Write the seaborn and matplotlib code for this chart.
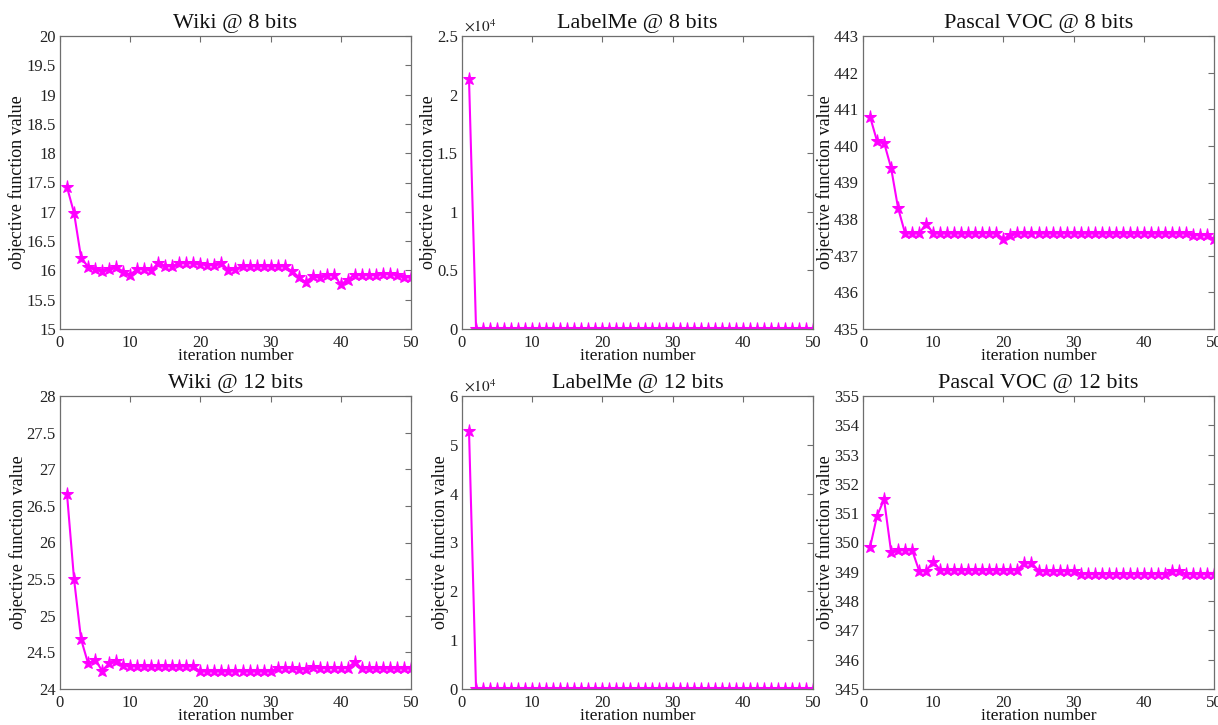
import numpy as np
import pandas as pd
import matplotlib
matplotlib.use("Agg")
import matplotlib.pyplot as plt
from matplotlib.ticker import FuncFormatter, MultipleLocator
import seaborn as sns

# Objective value per iteration (iterations 1..50)
iterations = list(range(1, 51))

wiki_8 = [17.42, 16.98, 16.22, 16.06, 16.02, 15.99, 16.03, 16.06, 15.98, 15.93,
          16.02, 16.03, 16.00, 16.13, 16.08, 16.08, 16.12, 16.13, 16.12, 16.11,
          16.10, 16.10, 16.13, 16.00, 16.03, 16.07, 16.07, 16.07, 16.07, 16.07,
          16.07, 16.07, 15.99, 15.89, 15.80, 15.90, 15.88, 15.92, 15.92, 15.76,
          15.84, 15.93, 15.93, 15.93, 15.93, 15.94, 15.94, 15.93, 15.89, 15.88]

labelme_8 = [21300, 30, 30, 30, 30, 30, 30, 30, 30, 30,
             30, 30, 30, 30, 30, 30, 30, 30, 30, 30,
             30, 30, 30, 30, 30, 30, 30, 30, 30, 30,
             30, 30, 30, 30, 30, 30, 30, 30, 30, 30,
             30, 30, 30, 30, 30, 30, 30, 30, 30, 30]

pascal_8 = [440.80, 440.13, 440.09, 439.40, 438.30, 437.61, 437.61, 437.61, 437.88, 437.61,
            437.61, 437.61, 437.61, 437.61, 437.61, 437.61, 437.63, 437.61, 437.61, 437.46,
            437.57, 437.61, 437.61, 437.61, 437.61, 437.61, 437.61, 437.61, 437.62, 437.61,
            437.61, 437.61, 437.61, 437.61, 437.61, 437.61, 437.61, 437.61, 437.61, 437.62,
            437.61, 437.61, 437.61, 437.61, 437.61, 437.61, 437.58, 437.56, 437.57, 437.46]

wiki_12 = [26.66, 25.50, 24.68, 24.35, 24.40, 24.25, 24.35, 24.38, 24.33, 24.31,
           24.31, 24.31, 24.31, 24.31, 24.31, 24.31, 24.31, 24.31, 24.31, 24.24,
           24.24, 24.24, 24.24, 24.24, 24.24, 24.24, 24.24, 24.24, 24.24, 24.24,
           24.29, 24.29, 24.29, 24.27, 24.27, 24.30, 24.29, 24.29, 24.29, 24.29,
           24.29, 24.37, 24.28, 24.28, 24.28, 24.28, 24.28, 24.28, 24.28, 24.28]

labelme_12 = [52800, 40, 40, 40, 40, 40, 40, 40, 40, 40,
              40, 40, 40, 40, 40, 40, 40, 40, 40, 40,
              40, 40, 40, 40, 40, 40, 40, 40, 40, 40,
              40, 40, 40, 40, 40, 40, 40, 40, 40, 40,
              40, 40, 40, 40, 40, 40, 40, 40, 40, 40]

pascal_12 = [349.83, 350.91, 351.47, 349.69, 349.74, 349.74, 349.74, 349.03, 349.03, 349.35,
             349.06, 349.06, 349.06, 349.06, 349.06, 349.06, 349.06, 349.06, 349.06, 349.06,
             349.06, 349.06, 349.31, 349.31, 349.04, 349.04, 349.04, 349.04, 349.04, 349.04,
             348.93, 348.93, 348.93, 348.93, 348.93, 348.93, 348.93, 348.93, 348.93, 348.93,
             348.93, 348.93, 348.93, 349.04, 349.04, 348.93, 348.93, 348.93, 348.93, 348.93]

titles = ["Wiki @ 8 bits", "LabelMe @ 8 bits", "Pascal VOC @ 8 bits",
          "Wiki @ 12 bits", "LabelMe @ 12 bits", "Pascal VOC @ 12 bits"]
series = [wiki_8, labelme_8, pascal_8, wiki_12, labelme_12, pascal_12]
y_limits = [(15, 20), (0, 25000), (435, 443), (24, 28), (0, 60000), (345, 355)]
y_steps = [0.5, 5000, 1, 0.5, 10000, 1]
y_scale = [1, 1e4, 1, 1, 1e4, 1]

sns.set_style("white")
plt.rcParams["font.family"] = ["Liberation Serif", "DejaVu Serif"]
plt.rcParams["mathtext.fontset"] = "stix"

W, H = 1218, 725
fig = plt.figure(figsize=(W / 100, H / 100), dpi=100)

col_left = [60, 462, 863]
row_top = [36, 396]
ax_w, ax_h = 351, 293

edge = "#6e6e6e"
magenta = "#ff00ff"

for i in range(6):
    r, c = divmod(i, 3)
    left = col_left[c] / W
    bottom = 1 - (row_top[r] + ax_h) / H
    ax = fig.add_axes([left, bottom, ax_w / W, ax_h / H])

    df = pd.DataFrame({"iteration": iterations, "value": series[i]})
    sns.lineplot(data=df, x="iteration", y="value", ax=ax, color=magenta,
                 linewidth=1.5, marker="*", markersize=9.5,
                 markeredgecolor=magenta, markerfacecolor=magenta)

    ax.set_xlim(0, 50)
    ax.set_ylim(*y_limits[i])
    ax.xaxis.set_major_locator(MultipleLocator(10))
    ax.yaxis.set_major_locator(MultipleLocator(y_steps[i]))
    s = y_scale[i]
    ax.yaxis.set_major_formatter(FuncFormatter(lambda v, p, s=s: f"{v / s:g}"))
    ax.xaxis.set_major_formatter(FuncFormatter(lambda v, p: f"{v:g}"))

    for sp in ax.spines.values():
        sp.set_visible(True)
        sp.set_color(edge)
        sp.set_linewidth(0.9)
    ax.tick_params(direction="in", top=True, right=True, length=4, width=0.8,
                   color=edge, labelsize=12, labelcolor="#222222")
    ax.tick_params(axis="x", pad=4)
    ax.tick_params(axis="y", pad=3)

    ax.set_title(titles[i], fontsize=16, color="#111111", pad=6)
    ax.set_xlabel("iteration number", fontsize=12.5, color="#111111", labelpad=-1.5)
    ax.set_ylabel("objective function value", fontsize=13, color="#111111", labelpad=0)

    if s != 1:
        ax.text(0.005, 1.005, r"$\times10^{4}$", transform=ax.transAxes,
                ha="left", va="bottom", fontsize=11, color="#222222")

fig.savefig("out.png", dpi=100)
